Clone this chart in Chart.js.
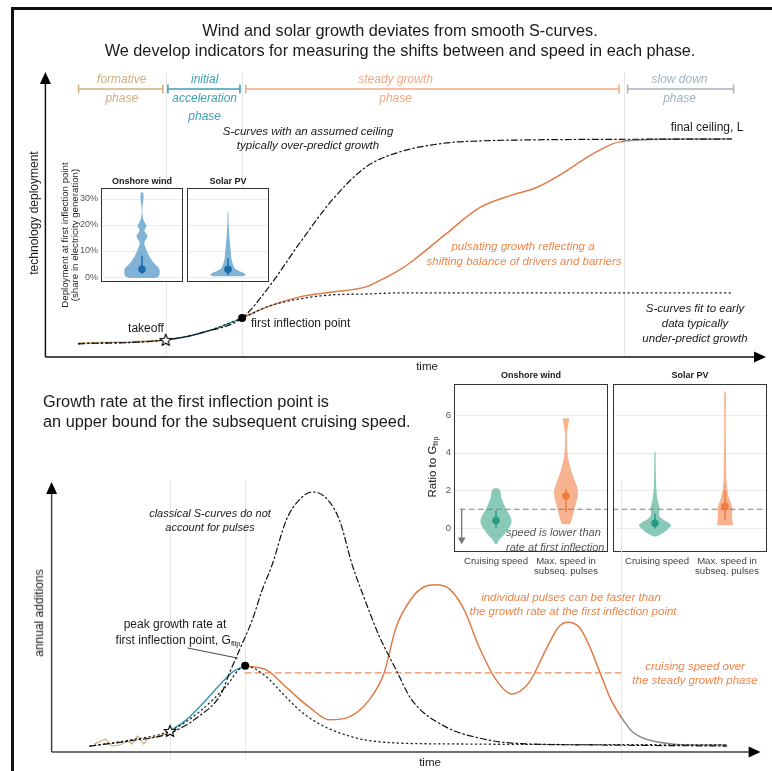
<!DOCTYPE html>
<html lang="en">

<head>
    <meta charset="UTF-8">
    <title>S-curves and growth pulses</title>
    <script src="https://cdn.jsdelivr.net/npm/chart.js"></script>
    <style>
        body {
            margin: 0;
            width: 772px;
            height: 771px;
            position: relative;
            overflow: hidden;
            background: #fff;
            font-family: "Liberation Sans", Arial, sans-serif;
            color: #1a1a1a;
        }

        canvas { position: absolute; left: 0; top: 0; }

        .frame {
            position: absolute; left: 11px; top: 7px; width: 900px; height: 900px;
            border-left: 3px solid #111; border-top: 3px solid #111;
        }

        .t { position: absolute; white-space: nowrap; line-height: 1.15; transform: translate(-50%, -50%); }
        .l { transform: translate(0, -50%); }
        .v { transform: translate(-50%, -50%) rotate(-90deg); }
        .i { font-style: italic; }
        .b { font-weight: bold; }
        .sub { font-size: 0.62em; vertical-align: -0.3em; }
    </style>
</head>

<body>
    <div class="frame"></div>

    <script>
        const W = 772, H = 771;

        // time markers shared by both panels
        const takeoffT = 16.7, inflectionT = 27.3, slowdownT = 80.3;

        // phases
        const phaseNames = [['formative', 'phase'], ['initial', 'acceleration', 'phase'], ['steady growth', 'phase'], ['slow down', 'phase']];
        const phaseStart = [4.6, 17.0, 27.8, 80.8];
        const phaseEnd = [16.3, 27.0, 79.6, 95.5];
        const phaseLabelT = [10.6, 22.1, 48.6, 88.0];
        const phaseColors = ['#cdae80', '#3f9fb2', '#f6a883', '#a3b2bc'];

        // top panel: cumulative deployment
        const cumEarlyT = [4.6, 7.6, 11.8, 16.7];
        const cumEarlyV = [4.9, 5.1, 5.3, 6.0];
        const cumAccelT = [16.7, 19.4, 22.1, 24.9, 27.3];
        const cumAccelV = [6.0, 7.0, 8.8, 11.2, 13.7];
        const cumSteadyT = [27.3, 30.7, 35.3, 39.8, 44.5, 46.3, 49.1, 50.9, 55.6, 60.2, 64.7, 68.0, 71.6, 75.0, 78.6, 80.3];
        const cumSteadyV = [13.7, 17.5, 21.1, 22.8, 24.6, 26.7, 30.5, 33.6, 43.2, 52.3, 56.8, 59.3, 64.2, 69.8, 74.7, 75.8];
        const cumSlowT = [80.3, 83.7, 88.0, 95.2];
        const cumSlowV = [75.8, 76.3, 76.5, 76.5];
        const earlyFitT = [4.6, 16.7, 22.1, 27.3, 31.1, 35.3, 39.8, 44.5, 49.1, 95.2];
        const earlyFitV = [4.7, 6.0, 8.8, 13.7, 17.9, 20.4, 21.8, 22.1, 22.5, 22.5];
        const ceilingFitT = [4.6, 16.7, 22.1, 27.3, 30.7, 35.3, 39.8, 44.5, 49.1, 55.6, 60.2, 64.7, 95.2];
        const ceilingFitV = [4.6, 6.0, 8.8, 13.7, 23.5, 40.0, 55.1, 66.7, 71.9, 75.1, 75.8, 76.1, 76.5];

        // bottom panel: annual additions
        const addEarlyT = [6.1, 7.6, 8.5, 9.6, 10.7, 11.4, 12.1, 13.0, 13.5, 15.2, 16.7];
        const addEarlyV = [3.0, 4.8, 2.2, 2.6, 4.1, 3.0, 5.9, 3.0, 4.8, 5.9, 7.8];
        const addAccelT = [16.7, 19.0, 21.8, 23.7, 25.5, 27.3];
        const addAccelV = [7.8, 11.9, 19.3, 24.8, 29.6, 31.9];
        const addSteadyT = [27.3, 30.3, 33.5, 36.3, 39.2, 42.0, 44.8, 46.9, 48.6, 50.8, 52.5, 54.2, 56.1, 58.2, 60.3, 62.7, 64.9, 67.3, 69.7, 71.5, 72.8, 74.4, 75.8, 77.2, 78.9, 80.3];
        const addSteadyV = [31.9, 30.4, 23.0, 16.7, 11.9, 13.0, 19.3, 29.3, 46.3, 57.0, 61.1, 61.9, 60.4, 52.6, 38.9, 26.7, 21.5, 25.6, 37.8, 46.3, 48.1, 46.3, 39.6, 30.4, 19.3, 13.0];
        const addSlowT = [80.3, 81.8, 83.8, 87.5, 91.3, 95.2];
        const addSlowV = [13.0, 7.8, 4.8, 3.0, 2.6, 2.6];
        const cruisingV = 29.3;
        const addEarlyFitT = [5.4, 11.0, 16.7, 20.8, 24.4, 27.3, 30.0, 32.5, 34.9, 37.3, 39.6, 42.0, 44.4, 49.0, 56.1, 95.2];
        const addEarlyFitV = [2.2, 4.4, 7.8, 14.8, 23.7, 31.9, 28.5, 21.9, 15.6, 11.1, 8.1, 5.9, 4.4, 3.3, 3.0, 2.6];
        const addClassicT = [5.4, 11.0, 16.7, 20.8, 23.9, 25.1, 26.5, 28.3, 29.7, 31.1, 33.1, 34.9, 36.8, 38.7, 40.6, 42.4, 44.1, 46.2, 48.6, 50.8, 55.6, 60.3, 64.9, 77.2, 95.2];
        const addClassicV = [2.2, 4.1, 7.0, 13.3, 21.5, 29.3, 37.8, 48.9, 60.0, 69.3, 85.9, 93.3, 96.3, 94.1, 85.9, 69.3, 57.0, 43.0, 30.4, 19.3, 9.3, 5.2, 3.3, 2.6, 2.2];

        // inset: deployment share at first inflection point (%)
        const shareTicks = [0, 10, 20, 30];
        const shareTickLabels = ['0%', '10%', '20%', '30%'];
        const windShareLevels = [-0.4, 0.3, 2, 3.5, 5, 6.5, 8, 9.5, 11, 12.5, 13.5, 15, 16, 17, 18, 19.5, 20.5, 22, 24, 26, 28, 30, 31.5, 32.5];
        const windShareWidth = [0.157, 0.205, 0.217, 0.205, 0.157, 0.120, 0.090, 0.066, 0.048, 0.030, 0.030, 0.060, 0.066, 0.042, 0.030, 0.054, 0.042, 0.018, 0.006, 0.004, 0.010, 0.018, 0.018, 0.012];
        const windShareStats = [1.5, 3.0, 8.0];
        const solarShareLevels = [0.3, 1, 2, 3, 4, 5.5, 7, 9, 11, 13, 15, 18, 21, 25];
        const solarShareWidth = [0.181, 0.217, 0.157, 0.096, 0.072, 0.054, 0.042, 0.036, 0.030, 0.024, 0.018, 0.012, 0.007, 0.004];
        const solarShareStats = [1.0, 3.0, 7.0];

        // inset: ratio to growth rate at first inflection
        const ratioTicks = [0, 2, 4, 6];
        const ratioTickLabels = ['0', '2', '4', '6'];
        const ratioCategories = [['Cruising speed'], ['Max. speed in', 'subseq. pulses']];
        const windCruiseLevels = [-0.85, -0.64, -0.27, 0.16, 0.43, 0.7, 1.0, 1.3, 1.67, 2.07];
        const windCruiseWidth = [0.014, 0.043, 0.133, 0.210, 0.221, 0.193, 0.143, 0.107, 0.074, 0.047];
        const windCruiseStats = [0.05, 0.4, 0.9];
        const windPulseLevels = [0.2, 0.5, 0.8, 1.1, 1.5, 1.85, 2.2, 2.55, 2.85, 3.1, 3.4, 3.7, 4.0, 4.5, 5.0, 5.3, 5.6, 5.8];
        const windPulseWidth = [0.057, 0.086, 0.107, 0.129, 0.157, 0.171, 0.157, 0.121, 0.093, 0.071, 0.050, 0.031, 0.021, 0.014, 0.014, 0.026, 0.036, 0.043];
        const windPulseStats = [0.9, 1.7, 2.05];
        const solarCruiseLevels = [-0.45, -0.35, -0.2, 0, 0.15, 0.3, 0.45, 0.6, 0.8, 1.0, 1.2, 1.5, 2.0, 2.5, 3.0, 3.5, 4.05];
        const solarCruiseWidth = [0.014, 0.071, 0.143, 0.200, 0.229, 0.186, 0.114, 0.071, 0.057, 0.064, 0.057, 0.036, 0.021, 0.014, 0.011, 0.009, 0.007];
        const solarCruiseStats = [0.0, 0.25, 0.75];
        const solarPulseLevels = [0.15, 0.4, 0.7, 1.0, 1.3, 1.6, 2.0, 2.5, 3.0, 4.0, 5.0, 6.0, 7.25];
        const solarPulseWidth = [0.114, 0.107, 0.100, 0.107, 0.086, 0.057, 0.036, 0.021, 0.017, 0.014, 0.011, 0.011, 0.010];
        const solarPulseStats = [0.45, 1.15, 1.95];

        const deco = {
            id: 'deco',
            beforeDatasetsDraw(chart, args, o) {
                const { ctx, chartArea: a, scales: { x, y } } = chart;
                ctx.save();
                if (o.bg) {
                    ctx.fillStyle = o.bg;
                    ctx.fillRect(a.left, a.top, a.width, a.height);
                }
                ctx.strokeStyle = o.gridColor || '#e8e8e8';
                ctx.lineWidth = 1;
                (o.hGrid || []).forEach(v => {
                    const py = Math.round(y.getPixelForValue(v)) + 0.5;
                    ctx.beginPath(); ctx.moveTo(a.left, py); ctx.lineTo(a.right, py); ctx.stroke();
                });
                (o.vGrid || []).forEach(v => {
                    const px = Math.round(x.getPixelForValue(v)) + 0.5;
                    ctx.beginPath(); ctx.moveTo(px, y.getPixelForValue(o.vFrom)); ctx.lineTo(px, y.getPixelForValue(o.vTo)); ctx.stroke();
                });
                if (o.ticks) {
                    ctx.fillStyle = '#555';
                    ctx.font = o.tickFont;
                    ctx.textAlign = 'right';
                    ctx.textBaseline = 'middle';
                    o.ticks.forEach((v, i) => ctx.fillText(o.tickLabels[i], a.left - 3, y.getPixelForValue(v)));
                }
                ctx.restore();
            },
            afterDatasetsDraw(chart, args, o) {
                const { ctx, chartArea: a } = chart;
                ctx.save();
                if (o.box) {
                    ctx.strokeStyle = o.box;
                    ctx.lineWidth = 1;
                    ctx.strokeRect(Math.round(a.left) + 0.5, Math.round(a.top) + 0.5, Math.round(a.width) - 1, Math.round(a.height) - 1);
                }
                if (o.arrows) {
                    ctx.strokeStyle = o.arrows;
                    ctx.fillStyle = '#000';
                    ctx.lineWidth = 1.5;
                    ctx.beginPath();
                    ctx.moveTo(a.left, a.bottom); ctx.lineTo(a.left, a.top + 10);
                    ctx.moveTo(a.left, a.bottom); ctx.lineTo(a.right - 10, a.bottom);
                    ctx.stroke();
                    ctx.beginPath();
                    ctx.moveTo(a.left, a.top); ctx.lineTo(a.left - 5.5, a.top + 12); ctx.lineTo(a.left + 5.5, a.top + 12);
                    ctx.closePath(); ctx.fill();
                    ctx.beginPath();
                    ctx.moveTo(a.right, a.bottom); ctx.lineTo(a.right - 12, a.bottom - 5.5); ctx.lineTo(a.right - 12, a.bottom + 5.5);
                    ctx.closePath(); ctx.fill();
                }
                ctx.restore();
            }
        };
        Chart.register(deco);

        function makeCanvas() {
            const c = document.createElement('canvas');
            c.width = W;
            c.height = H;
            document.body.appendChild(c);
            return c;
        }

        function frameOptions(area, xr, yr, decoOpts) {
            return {
                responsive: false,
                animation: false,
                events: [],
                layout: { padding: { left: area[0], top: area[1], right: W - area[2], bottom: H - area[3] } },
                scales: {
                    x: { type: 'linear', min: xr[0], max: xr[1], display: false },
                    y: { type: 'linear', min: yr[0], max: yr[1], display: false }
                },
                plugins: { legend: { display: false }, tooltip: { enabled: false }, deco: decoOpts },
                elements: { point: { radius: 0 }, line: { borderCapStyle: 'round' } }
            };
        }

        // chart.js paints the first dataset last, so lists are written bottom-up and flipped
        function layers(list) {
            return list.slice().reverse();
        }

        function series(ts, vs) {
            return ts.map((t, i) => ({ x: t, y: vs[i] }));
        }

        function curve(ts, vs, color, extra) {
            return Object.assign({
                data: series(ts, vs), borderColor: color, borderWidth: 1.5, pointRadius: 0,
                fill: false, cubicInterpolationMode: 'monotone'
            }, extra || {});
        }

        function starImage(size) {
            const c = document.createElement('canvas');
            c.width = c.height = size;
            const g = c.getContext('2d');
            const R = size / 2 - 1, r = R * 0.45;
            g.beginPath();
            for (let i = 0; i < 10; i++) {
                const ang = -Math.PI / 2 + i * Math.PI / 5;
                const rad = i % 2 ? r : R;
                g.lineTo(size / 2 + rad * Math.cos(ang), size / 2 + 0.5 + rad * Math.sin(ang));
            }
            g.closePath();
            g.fillStyle = '#fff';
            g.fill();
            g.strokeStyle = '#000';
            g.lineWidth = 1.1;
            g.stroke();
            return c;
        }
        const star = starImage(14);

        function marker(t, v, style) {
            return {
                data: [{ x: t, y: v }], showLine: false, pointStyle: style, pointRadius: 4,
                pointBackgroundColor: '#000', pointBorderWidth: 0
            };
        }

        function violin(center, levels, widths, color) {
            const left = levels.map((v, i) => ({ x: center - widths[i], y: v }));
            const right = levels.map((v, i) => ({ x: center + widths[i], y: v })).reverse();
            return {
                data: left.concat(right), borderWidth: 0, borderColor: 'rgba(0,0,0,0)',
                backgroundColor: color, fill: 'shape', tension: 0.3, pointRadius: 0
            };
        }

        function summary(center, stats, color) {
            return [
                { data: [{ x: center, y: stats[0] }, { x: center, y: stats[2] }], borderColor: color, borderWidth: 1.5, pointRadius: 0 },
                { data: [{ x: center, y: stats[1] }], showLine: false, pointRadius: 3.8, pointBackgroundColor: color, pointBorderWidth: 0 }
            ];
        }

        // ---- top panel ----
        const dotted = { borderColor: '#222', borderWidth: 1.3, borderDash: [1.2, 3.4] };
        const dashDot = { borderColor: '#111', borderWidth: 1.2, borderDash: [6, 3, 1.5, 3] };

        const phaseSets = phaseStart.map((s, i) => ({
            data: [{ x: s, y: 94 }, { x: phaseEnd[i], y: 94 }],
            borderColor: phaseColors[i], borderWidth: 1.5,
            pointStyle: 'line', pointRotation: 90, pointRadius: 4.5,
            pointBorderColor: phaseColors[i], pointBorderWidth: 1.5
        }));

        const topChart = new Chart(makeCanvas(), {
            type: 'line',
            data: {
                datasets: layers([
                    curve(cumEarlyT, cumEarlyV, '#d3b27f'),
                    curve(cumAccelT, cumAccelV, '#3d9cb5'),
                    curve(cumSteadyT, cumSteadyV, '#e07b47'),
                    curve(cumSlowT, cumSlowV, '#8c8c8c'),
                    curve(earlyFitT, earlyFitV, '#222', dotted),
                    curve(ceilingFitT, ceilingFitV, '#111', dashDot),
                    ...phaseSets,
                    marker(cumAccelT[0], cumAccelV[0], star),
                    marker(cumSteadyT[0], cumSteadyV[0], 'circle')
                ])
            },
            options: frameOptions([45.4, 72, 767.4, 357], [0, 100], [0, 100], {
                vGrid: [takeoffT, inflectionT, slowdownT], vFrom: 100, vTo: 0, gridColor: '#e6e6e6', arrows: '#111'
            })
        });

        // ---- top insets ----
        const shareInset = (area, levels, widths, stats) => new Chart(makeCanvas(), {
            type: 'line',
            data: { datasets: layers([violin(1, levels, widths, '#80b3d6'), ...summary(1, stats, '#1c6aa6')]) },
            options: frameOptions(area, [0.5, 1.5], [-1.9, 34.2], {
                bg: '#fff', hGrid: shareTicks, gridColor: '#ebebeb', box: '#333',
                ticks: area[0] < 150 ? shareTicks : null, tickLabels: shareTickLabels, tickFont: '9px "Liberation Sans"'
            })
        });
        shareInset([101, 188, 183, 282], windShareLevels, windShareWidth, windShareStats);
        shareInset([187, 188, 269, 282], solarShareLevels, solarShareWidth, solarShareStats);

        // ---- bottom insets ----
        const ratioInset = (area, cruise, pulse, withTicks, extras) => new Chart(makeCanvas(), {
            type: 'line',
            data: {
                datasets: layers([
                    violin(1, cruise[0], cruise[1], '#89c9b8'),
                    violin(2, pulse[0], pulse[1], '#f7b290'),
                    { data: [{ x: withTicks ? 0.49 : 0.4, y: 1 }, { x: 2.6, y: 1 }], borderColor: '#808080', borderWidth: 1.1, borderDash: [5, 4], pointRadius: 0 },
                    ...summary(1, cruise[2], '#2b9a83'),
                    ...summary(2, pulse[2], '#ef7c3c'),
                    ...extras
                ])
            },
            options: frameOptions(area, [0.4, 2.6], [-1.27, 7.65], {
                bg: '#fff', hGrid: ratioTicks, gridColor: '#ebebeb', box: '#333',
                ticks: withTicks ? ratioTicks : null, tickLabels: ratioTickLabels, tickFont: '9.5px "Liberation Sans"'
            })
        });
        const lowerArrow = {
            data: [{ x: 0.51, y: 1 }, { x: 0.51, y: -0.62 }], borderColor: '#777', borderWidth: 1.3,
            pointStyle: 'triangle', pointRotation: 180, pointRadius: [0, 4.5], pointBackgroundColor: '#777', pointBorderWidth: 0
        };
        const windRatio = ratioInset([454, 384, 608, 552],
            [windCruiseLevels, windCruiseWidth, windCruiseStats], [windPulseLevels, windPulseWidth, windPulseStats], true, [lowerArrow]);
        ratioInset([613, 384, 767, 552],
            [solarCruiseLevels, solarCruiseWidth, solarCruiseStats], [solarPulseLevels, solarPulseWidth, solarPulseStats], false, []);

        // ---- bottom panel ----
        const bottomChart = new Chart(makeCanvas(), {
            type: 'line',
            data: {
                datasets: layers([
                    curve(addEarlyT, addEarlyV, '#d3b27f', { cubicInterpolationMode: 'default', tension: 0, borderWidth: 1.2 }),
                    curve(addAccelT, addAccelV, '#3d9cb5'),
                    curve(addSteadyT, addSteadyV, '#e07b47'),
                    curve(addSlowT, addSlowV, '#8c8c8c'),
                    { data: [{ x: inflectionT, y: cruisingV }, { x: slowdownT, y: cruisingV }], borderColor: '#eb8c5e', borderWidth: 1.2, borderDash: [6, 4], pointRadius: 0 },
                    curve(addEarlyFitT, addEarlyFitV, '#222', dotted),
                    curve(addClassicT, addClassicV, '#111', dashDot),
                    { data: [{ x: 19.2, y: 38.5 }, { x: 26.2, y: 34.8 }], borderColor: '#333', borderWidth: 0.9, pointRadius: 0 },
                    marker(addAccelT[0], addAccelV[0], star),
                    marker(addSteadyT[0], addSteadyV[0], 'circle')
                ])
            },
            options: frameOptions([51.6, 482, 760.6, 752], [0, 100], [0, 100], {
                vGrid: [takeoffT, inflectionT, slowdownT], vFrom: 100.7, vTo: -3, gridColor: '#e6e6e6', arrows: '#444'
            })
        });

        // ---- text ----
        function label(html, x, y, cls, css) {
            const d = document.createElement('div');
            d.className = 't ' + (cls || '');
            d.innerHTML = html;
            d.style.left = x + 'px';
            d.style.top = y + 'px';
            if (css) d.style.cssText += css;
            document.body.appendChild(d);
        }
        const orange = 'color:#ef8548;';

        label('Wind and solar growth deviates from smooth S-curves.', 400, 30, '', 'font-size:16.3px');
        label('We develop indicators for measuring the shifts between and speed in each phase.', 400, 50, '', 'font-size:16.3px');

        const tx = topChart.scales.x;
        phaseNames.forEach((lines, i) => {
            lines.forEach((s, j) => {
                label(s, tx.getPixelForValue(phaseLabelT[i]), j === 0 ? 80 : 80 + 18.5 * j, 'i', 'font-size:12px;color:' + phaseColors[i]);
            });
        });

        label('S-curves with an assumed ceiling', 308, 132, 'i', 'font-size:11.5px');
        label('typically over-predict growth', 308, 146, 'i', 'font-size:11.5px');
        label('final ceiling, L', 707, 128, '', 'font-size:12px');
        label('pulsating growth reflecting a', 523, 247, 'i', 'font-size:11.5px;' + orange);
        label('shifting balance of drivers and barriers', 524, 262, 'i', 'font-size:11.5px;' + orange);
        label('S-curves fit to early', 695, 309, 'i', 'font-size:11.5px');
        label('data typically', 695, 324, 'i', 'font-size:11.5px');
        label('under-predict growth', 695, 339, 'i', 'font-size:11.5px');
        label('takeoff', 146, 329, '', 'font-size:12px');
        label('first inflection point', 251, 324, 'l', 'font-size:12px');
        label('technology deployment', 35, 213, 'v', 'font-size:12px');
        label('time', 427, 367, '', 'font-size:11.5px');

        label('Onshore wind', 142, 181, 'b', 'font-size:9px');
        label('Solar PV', 228, 181, 'b', 'font-size:9px');
        label('Deployment at first inflection point', 65, 235, 'v', 'font-size:9.7px');
        label('(share in electricity generation)', 75, 235, 'v', 'font-size:9.7px');

        label('Growth rate at the first inflection point is', 43, 401, 'l', 'font-size:16.3px');
        label('an upper bound for the subsequent cruising speed.', 43, 421, 'l', 'font-size:16.3px');

        label('Onshore wind', 531, 375, 'b', 'font-size:9px');
        label('Solar PV', 690, 375, 'b', 'font-size:9px');
        label('Ratio to G<span class="sub">flip</span>', 433, 467, 'v', 'font-size:11.5px');
        const rx = windRatio.scales.x;
        [0, 161].forEach(shift => {
            ratioCategories.forEach((lines, i) => {
                lines.forEach((s, j) => label(s, rx.getPixelForValue(i + 1) + shift, 561 + 10 * j, '', 'font-size:9.6px;color:#444;line-height:1'));
            });
        });
        label('speed is lower than', 506, 532, 'l i', 'font-size:11px;color:#555;width:101px;overflow:hidden');
        label('rate at first inflection', 506, 547, 'l i', 'font-size:11px;color:#555;width:101px;overflow:hidden');

        label('classical S-curves do not', 210, 513, 'i', 'font-size:11px');
        label('account for pulses', 210, 527, 'i', 'font-size:11px');
        label('peak growth rate at', 175, 625, '', 'font-size:12px');
        label('first inflection point, G<span class="sub">flip</span>', 178, 641, '', 'font-size:12px');
        label('individual pulses can be faster than', 571, 598, 'i', 'font-size:11.5px;' + orange);
        label('the growth rate at the first inflection point', 573, 612, 'i', 'font-size:11.5px;' + orange);
        label('cruising speed over', 695, 667, 'i', 'font-size:11.5px;' + orange);
        label('the steady growth phase', 695, 681, 'i', 'font-size:11.5px;' + orange);
        label('annual additions', 40, 613, 'v', 'font-size:12px');
        label('time', 430, 763, '', 'font-size:11.5px');
    </script>
</body>

</html>
